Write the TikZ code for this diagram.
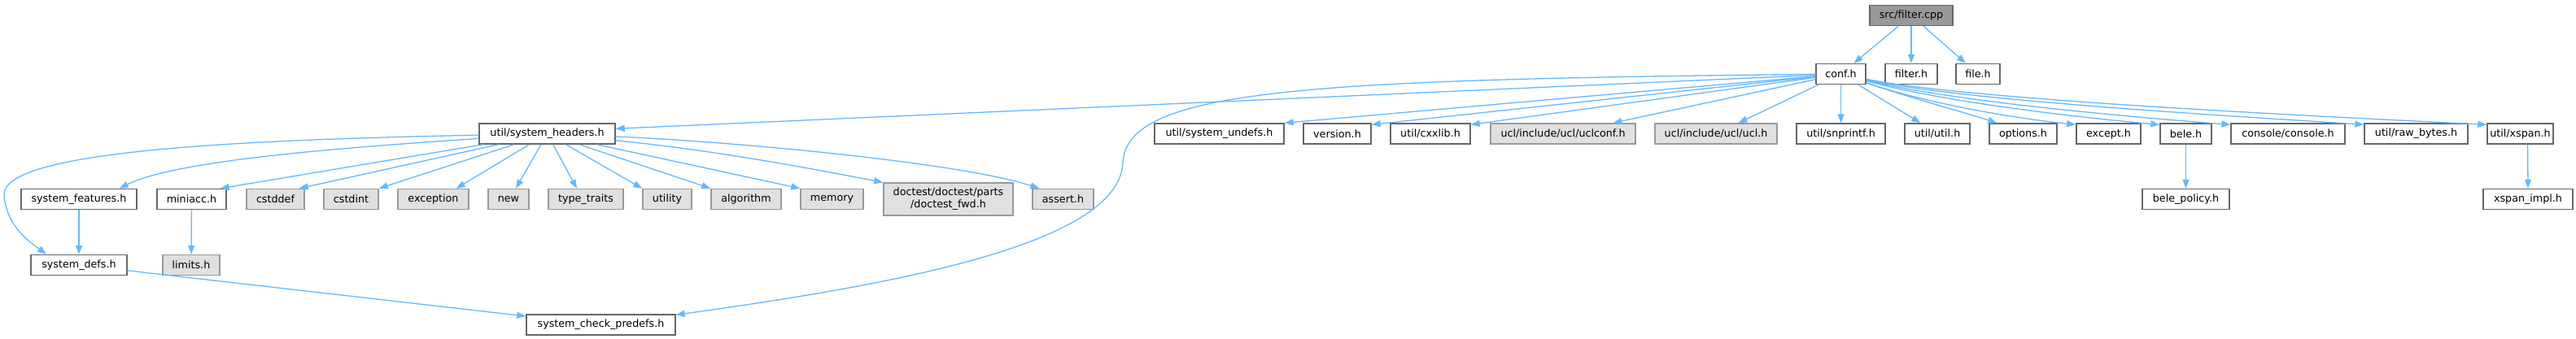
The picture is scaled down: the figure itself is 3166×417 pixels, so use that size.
\documentclass[tikz,border=0pt]{standalone}
\usepackage{fontspec}
\setmainfont{DejaVu Sans}
\usetikzlibrary{arrows.meta}
\definecolor{edgec}{HTML}{63B8FF}
\definecolor{bordw}{HTML}{666666}
\definecolor{bordg}{HTML}{999999}
\definecolor{fillg}{HTML}{E0E0E0}
\definecolor{fillr}{HTML}{999999}
\tikzset{
  box/.style={draw=bordw, fill=white, line width=1.4pt, minimum height=25pt, inner sep=0pt, anchor=center},
  gbox/.style={box, draw=bordg, fill=fillg},
  rbox/.style={box, draw=bordw, fill=fillr},
  edge/.style={draw=edgec, line width=1.3pt, -{Triangle[length=11pt,width=8pt]}}
}
\begin{document}
\begin{tikzpicture}[x=1pt, y=-1pt, font=\fontsize{12.7}{15}\selectfont]
\useasboundingbox (0,0) rectangle (3166,417);
% row 0
\node[rbox, minimum width=102pt] (filtercpp) at (2349,19) {src/filter.cpp};
% row 1
\node[box, minimum width=61pt] (conf) at (2262.5,91) {conf.h};
\node[box, minimum width=64pt] (filterh) at (2349,91) {filter.h};
\node[box, minimum width=54pt] (fileh) at (2431,91) {file.h};
% row 2
\node[box, minimum width=167pt] (sysheaders) at (672.5,164.5) {util/system\_headers.h};
\node[box, minimum width=159pt] (sysundefs) at (1498.5,164.5) {util/system\_undefs.h};
\node[box, minimum width=83pt] (version) at (1643.5,164.5) {version.h};
\node[box, minimum width=98pt] (cxxlib) at (1758,164.5) {util/cxxlib.h};
\node[gbox, minimum width=178pt] (uclconf) at (1921,164.5) {ucl/include/ucl/uclconf.h};
\node[gbox, minimum width=150pt] (ucl) at (2109,164.5) {ucl/include/ucl/ucl.h};
\node[box, minimum width=109pt] (snprintf) at (2262.5,164.5) {util/snprintf.h};
\node[box, minimum width=80pt] (util) at (2381,164.5) {util/util.h};
\node[box, minimum width=83pt] (options) at (2486.5,164.5) {options.h};
\node[box, minimum width=79pt] (except) at (2591.5,164.5) {except.h};
\node[box, minimum width=63pt] (bele) at (2686.5,164.5) {bele.h};
\node[box, minimum width=140pt] (console) at (2812,164.5) {console/console.h};
\node[box, minimum width=127pt] (rawbytes) at (2969.5,164.5) {util/raw\_bytes.h};
\node[box, minimum width=81pt] (xspan) at (3097.5,164.5) {util/xspan.h};
% row 3
\node[box, minimum width=142pt] (sysfeatures) at (97,245) {system\_features.h};
\node[box, minimum width=85pt] (miniacc) at (235.5,245) {miniacc.h};
\node[gbox, minimum width=71pt] (cstddef) at (338.5,245) {cstddef};
\node[gbox, minimum width=67pt] (cstdint) at (431.5,245) {cstdint};
\node[gbox, minimum width=87pt] (exception) at (532.5,245) {exception};
\node[gbox, minimum width=50pt] (newh) at (625,245) {new};
\node[gbox, minimum width=92pt] (typetraits) at (720,245) {type\_traits};
\node[gbox, minimum width=60pt] (utility) at (820,245) {utility};
\node[gbox, minimum width=86pt] (algorithm) at (917,245) {algorithm};
\node[gbox, minimum width=77pt] (memory) at (1022.5,245) {memory};
\node[gbox, minimum width=159pt, minimum height=40pt, align=center] (doctest) at (1165.5,245) {doctest/doctest/parts\\/doctest\_fwd.h};
\node[gbox, minimum width=75pt] (assert) at (1306.5,245) {assert.h};
\node[box, minimum width=107pt] (belepolicy) at (2686.5,245) {bele\_policy.h};
\node[box, minimum width=110pt] (xspanimpl) at (3107,245) {xspan\_impl.h};
% row 4
\node[box, minimum width=118pt] (sysdefs) at (97,326) {system\_defs.h};
\node[gbox, minimum width=70pt] (limits) at (235,326) {limits.h};
% row 5
\node[box, minimum width=183pt] (syscheck) at (738.5,399.5) {system\_check\_predefs.h};

% edges from root
\draw[edge] (filtercpp) -- (conf);
\draw[edge] (filtercpp) -- (filterh);
\draw[edge] (filtercpp) -- (fileh);
% edges from conf.h
\draw[edge] (conf) -- ([yshift=-7pt]sysheaders.north east);
\draw[edge] (conf) -- (sysundefs.north east);
\draw[edge] (conf) -- ([yshift=-2pt]version.north east);
\draw[edge] (conf) -- ([yshift=-2pt]cxxlib.north east);
\draw[edge] (conf) -- (uclconf);
\draw[edge] (conf) -- (ucl);
\draw[edge] (conf) -- (snprintf);
\draw[edge] (conf) -- ([xshift=20pt]util.north west);
\draw[edge] (conf) .. controls (2340,118) and (2420,140) .. ([xshift=10pt]options.north west);
\draw[edge] (conf) .. controls (2370,128) and (2480,146) .. ([yshift=-2pt]except.north west);
\draw[edge] (conf) .. controls (2390,126) and (2560,145) .. ([yshift=-2pt]bele.north west);
\draw[edge] (conf) .. controls (2400,125) and (2620,144) .. ([yshift=-2pt]console.north west);
\draw[edge] (conf) .. controls (2410,124) and (2750,143) .. ([yshift=-2pt]rawbytes.north west);
\draw[edge] (conf) .. controls (2420,123) and (2850,143) .. ([yshift=-2pt]xspan.north west);
\draw[edge] (conf) .. controls (1600,98) and (1385,110) .. (1380,200)
  .. controls (1376,300) and (1100,350) .. ([yshift=-1pt]syscheck.north east);
% edges from system_headers
\draw[edge] (sysheaders) .. controls (300,172) and (2,185) .. (5,240)
  .. controls (8,280) and (40,300) .. ([xshift=-40pt]sysdefs.north);
\draw[edge] (sysheaders) .. controls (450,180) and (220,195) .. ([xshift=-22pt]sysfeatures.north east);
\draw[edge] (sysheaders) -- ([xshift=-8pt]miniacc.north east);
\draw[edge] (sysheaders) -- ([xshift=-7pt]cstddef.north east);
\draw[edge] (sysheaders) -- (cstdint.north east);
\draw[edge] (sysheaders) -- ([xshift=-16pt]exception.north east);
\draw[edge] (sysheaders) -- ([xshift=9pt]newh.north);
\draw[edge] (sysheaders) -- ([xshift=-11pt]typetraits.north);
\draw[edge] (sysheaders) -- (utility.north west);
\draw[edge] (sysheaders) -- (algorithm.north west);
\draw[edge] (sysheaders) -- (memory.north west);
\draw[edge] (sysheaders) .. controls (880,185) and (1000,208) .. (doctest.north west);
\draw[edge] (sysheaders) .. controls (900,174) and (1180,200) .. ([xshift=9pt]assert.north west);
% other edges
\draw[edge] (sysfeatures) -- (sysdefs);
\draw[edge] (miniacc) -- (limits);
\draw[edge] (sysdefs) -- (syscheck);
\draw[edge] (bele) -- (belepolicy);
\draw[edge] ([xshift=9pt]xspan.south) -- (xspanimpl.north);
\end{tikzpicture}
\end{document}
